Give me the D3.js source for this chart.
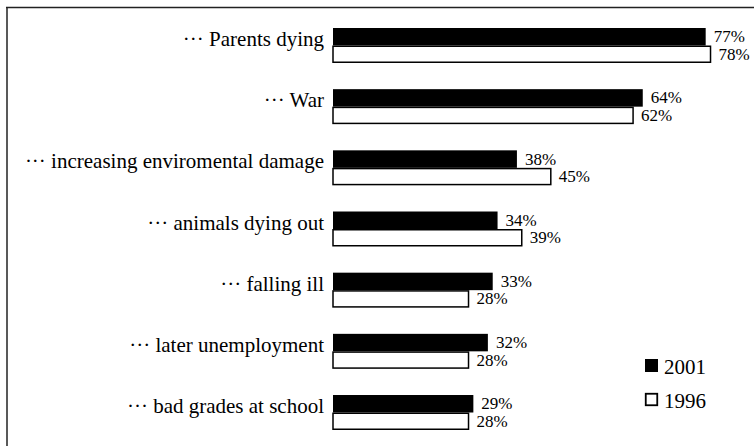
<!DOCTYPE html>
<html>
<head>
<meta charset="utf-8">
<script src="https://cdn.jsdelivr.net/npm/d3@7/dist/d3.min.js"></script>
</head>
<body style="margin:0;background:#fff">
<svg id="chart" width="754" height="446"></svg>
<script>
// Worries of children: "I am afraid of ..."
const categories = [
  "\u00B7\u00B7\u00B7 Parents dying",
  "\u00B7\u00B7\u00B7 War",
  "\u00B7\u00B7\u00B7 increasing enviromental damage",
  "\u00B7\u00B7\u00B7 animals dying out",
  "\u00B7\u00B7\u00B7 falling ill",
  "\u00B7\u00B7\u00B7 later unemployment",
  "\u00B7\u00B7\u00B7 bad grades at school"
];
const seriesNames = ["2001", "1996"];
const values2001 = [77, 64, 38, 34, 33, 32, 29];
const values1996 = [78, 62, 45, 39, 28, 28, 28];

const FONT = '"Liberation Serif"';

const rows = categories.map((c, i) => ({
  category: c,
  bars: [
    { series: "2001", value: values2001[i] },
    { series: "1996", value: values1996[i] }
  ]
}));

const svg = d3.select("#chart");

// frame: top and left edges only
svg.append("line")
  .attr("x1", 6).attr("x2", 754).attr("y1", 7.5).attr("y2", 7.5)
  .attr("stroke", "#222").attr("stroke-width", 1.5);
svg.append("line")
  .attr("x1", 7).attr("x2", 7).attr("y1", 7).attr("y2", 446)
  .attr("stroke", "#222").attr("stroke-width", 1.5);

const x = d3.scaleLinear().domain([0, 100]).range([333, 817]);

const y = d3.scaleBand()
  .domain(categories)
  .range([28, 430])
  .paddingInner(0.428)
  .paddingOuter(0);

const ySeries = d3.scaleBand()
  .domain(seriesNames)
  .range([0, y.bandwidth()]);

const fill = d3.scaleOrdinal().domain(seriesNames).range(["#000", "#fff"]);

const groups = svg.append("g").selectAll("g")
  .data(rows)
  .join("g")
  .attr("transform", d => `translate(0,${y(d.category)})`);

// category labels
groups.append("text")
  .attr("x", 324)
  .attr("y", y.bandwidth() / 2 + 0.5)
  .attr("text-anchor", "end")
  .attr("font-size", 21)
  .style("font-family", FONT)
  .attr("fill", "#000")
  .text(d => d.category);

// bars
groups.selectAll("rect")
  .data(d => d.bars)
  .join("rect")
  .attr("x", x(0))
  .attr("y", d => ySeries(d.series) + (d.series === "1996" ? 0.75 : 0))
  .attr("width", d => x(d.value) - x(0))
  .attr("height", d => ySeries.bandwidth() - (d.series === "1996" ? 1.5 : 0))
  .attr("fill", d => fill(d.series))
  .attr("stroke", d => d.series === "1996" ? "#000" : "none")
  .attr("stroke-width", 1.5);

// value labels
groups.selectAll("text.val")
  .data(d => d.bars)
  .join("text")
  .attr("class", "val")
  .attr("x", d => x(d.value) + 8)
  .attr("y", d => ySeries(d.series) + ySeries.bandwidth() / 2 + 5.5)
  .attr("font-size", 17)
  .style("font-family", FONT)
  .attr("fill", "#000")
  .text(d => d.value + "%");

// legend
const legend = svg.append("g").attr("transform", "translate(645,359)");
const li = legend.selectAll("g")
  .data(seriesNames)
  .join("g")
  .attr("transform", (d, i) => `translate(0,${i * 34})`);
li.append("rect")
  .attr("x", d => d === "1996" ? 0.75 : 0)
  .attr("y", d => d === "1996" ? 0.75 : 0)
  .attr("width", d => d === "1996" ? 11.5 : 13)
  .attr("height", d => d === "1996" ? 11.5 : 13)
  .attr("fill", d => fill(d))
  .attr("stroke", d => d === "1996" ? "#000" : "none")
  .attr("stroke-width", 1.8);
li.append("text")
  .attr("x", 19)
  .attr("y", 14.5)
  .attr("font-size", 21)
  .style("font-family", FONT)
  .attr("fill", "#000")
  .text(d => d);
</script>
</body>
</html>
